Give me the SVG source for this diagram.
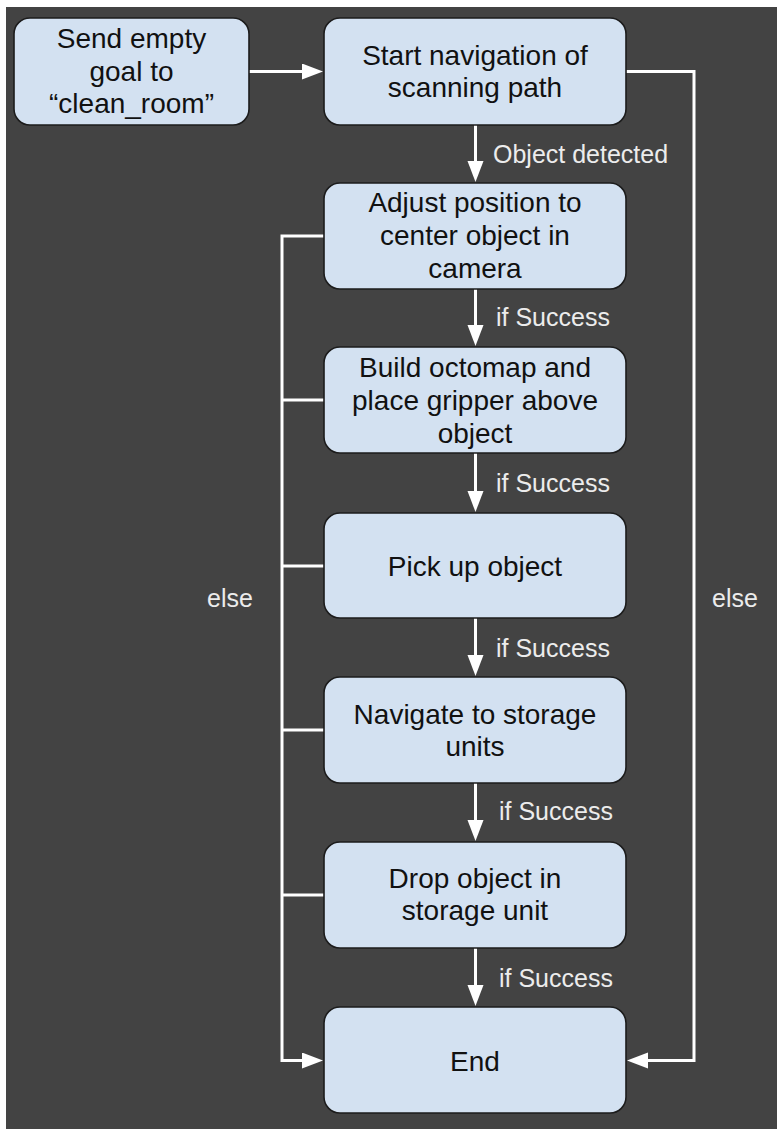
<svg xmlns="http://www.w3.org/2000/svg" width="777" height="1129" viewBox="0 0 777 1129">
  <style>
    .node rect { fill: #d3e1f1; stroke: #1c1c1c; stroke-width: 1.6; }
    .node text { font-family: "Liberation Sans", Arial, sans-serif; font-size: 28px; fill: #111; text-anchor: middle; }
    .wire { fill: none; stroke: #ffffff; stroke-width: 3; stroke-linecap: butt; stroke-linejoin: miter; }
    .lbl { font-family: "Liberation Sans", Arial, sans-serif; font-size: 25px; fill: #ececec; }
  </style>
  <defs>
    <marker id="head" markerUnits="userSpaceOnUse" markerWidth="22" markerHeight="17" refX="11" refY="8" orient="auto">
      <path d="M0,0 L21,8 L0,16 Z" fill="#ffffff"/>
    </marker>
  </defs>

  <!-- page background -->
  <rect x="0" y="0" width="777" height="1129" fill="#ffffff"/>
  <rect x="6" y="7" width="771" height="1122" fill="#434343"/>

  <!-- connectors -->
  <g id="connectors">
    <!-- start goal -> scanning path -->
    <path class="wire" d="M249,71.5 H313" marker-end="url(#head)"/>
    <!-- main success chain -->
    <path class="wire" d="M475.5,125 V172" marker-end="url(#head)"/>
    <path class="wire" d="M475.5,289 V336" marker-end="url(#head)"/>
    <path class="wire" d="M475.5,453 V502" marker-end="url(#head)"/>
    <path class="wire" d="M475.5,618 V666" marker-end="url(#head)"/>
    <path class="wire" d="M475.5,783 V831" marker-end="url(#head)"/>
    <path class="wire" d="M475.5,948 V996" marker-end="url(#head)"/>
    <!-- failure branches on the left -->
    <path class="wire" d="M324,236 H282 V1060.5 H313" marker-end="url(#head)"/>
    <path class="wire" d="M324,400 H282"/>
    <path class="wire" d="M324,566 H282"/>
    <path class="wire" d="M324,730 H282"/>
    <path class="wire" d="M324,895 H282"/>
    <!-- no object found: right side -->
    <path class="wire" d="M626,71.5 H694 V1060.5 H637" marker-end="url(#head)"/>

    <text class="lbl" x="493" y="163">Object detected</text>
    <text class="lbl" x="496" y="326">if Success</text>
    <text class="lbl" x="496" y="492">if Success</text>
    <text class="lbl" x="496" y="657">if Success</text>
    <text class="lbl" x="499" y="820">if Success</text>
    <text class="lbl" x="499" y="987">if Success</text>
    <text class="lbl" x="207" y="607">else</text>
    <text class="lbl" x="712" y="607">else</text>
  </g>

  <g id="send-goal" class="node">
    <rect x="14" y="18" width="235" height="107" rx="16"/>
    <text x="131.5" y="48">Send empty</text>
    <text x="131.5" y="80.5">goal to</text>
    <text x="131.5" y="113">“clean_room”</text>
  </g>

  <g id="scan-path" class="node">
    <rect x="324" y="18" width="302" height="107" rx="16"/>
    <text x="475" y="65">Start navigation of</text>
    <text x="475" y="97">scanning path</text>
  </g>

  <g id="adjust" class="node">
    <rect x="324" y="183" width="302" height="106" rx="16"/>
    <text x="475" y="212">Adjust position to</text>
    <text x="475" y="245">center object in</text>
    <text x="475" y="278">camera</text>
  </g>

  <g id="octomap" class="node">
    <rect x="324" y="347" width="302" height="106" rx="16"/>
    <text x="475" y="377">Build octomap and</text>
    <text x="475" y="409.5">place gripper above</text>
    <text x="475" y="443">object</text>
  </g>

  <g id="pick" class="node">
    <rect x="324" y="513" width="302" height="105" rx="16"/>
    <text x="475" y="576">Pick up object</text>
  </g>

  <g id="navigate" class="node">
    <rect x="324" y="677" width="302" height="106" rx="16"/>
    <text x="475" y="724">Navigate to storage</text>
    <text x="475" y="756">units</text>
  </g>

  <g id="drop" class="node">
    <rect x="324" y="842" width="302" height="106" rx="16"/>
    <text x="475" y="888">Drop object in</text>
    <text x="475" y="920">storage unit</text>
  </g>

  <g id="end" class="node">
    <rect x="324" y="1007" width="302" height="106" rx="16"/>
    <text x="475" y="1071">End</text>
  </g>
</svg>
